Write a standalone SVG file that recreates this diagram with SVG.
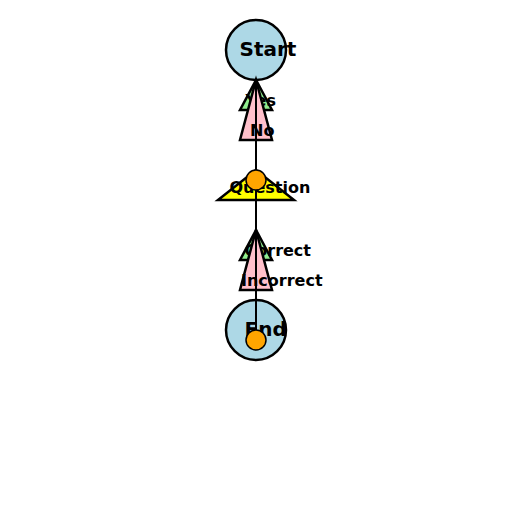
<svg xmlns="http://www.w3.org/2000/svg" width="512" height="512" viewBox="0 0 512 512">
  <style>
    .lbl { font-family: "DejaVu Sans", "Liberation Sans", sans-serif; font-weight: bold; fill: #000; }
    .big { font-size: 20px; }
    .small { font-size: 16px; }
    .edge { fill: none; stroke: #000; stroke-width: 2.5; }
    .nofill { stroke: none; }
    .conn { stroke: #000; stroke-width: 2; fill: none; }
    .dot { fill: #FFA500; stroke: #000; stroke-width: 1.5; }
  </style>
  <rect width="512" height="512" fill="#ffffff"/>
  <g id="start">
    <circle cx="256" cy="50" r="30" fill="#ADD8E6" class="nofill"/>
    <text class="lbl big" x="239.5" y="55.5">Start</text>
    <circle cx="256" cy="50" r="30" class="edge"/>
  </g>
  <g id="yes">
    <polygon points="256,80 240,110 272,110" fill="#90EE90" class="nofill"/>
    <polygon points="256,80 240,110 272,110" class="edge"/>
    <text class="lbl small" x="245.5" y="105.5">Yes</text>
  </g>
  <g id="no">
    <polygon points="256,80 240,140 272,140" fill="#FFC0CB" class="nofill"/>
    <text class="lbl small" x="250" y="136">No</text>
    <polygon points="256,80 240,140 272,140" class="edge"/>
  </g>
  <g id="question">
    <polygon points="256,170 218,200 294,200" fill="#FFFF00" class="nofill"/>
    <text class="lbl small" x="229.5" y="193">Question</text>
    <polygon points="256,170 218,200 294,200" class="edge"/>
  </g>
  <g id="correct">
    <polygon points="256,230 240,260 272,260" fill="#90EE90" class="nofill"/>
    <polygon points="256,230 240,260 272,260" class="edge"/>
    <text class="lbl small" x="244.5" y="256">Correct</text>
  </g>
  <g id="incorrect">
    <polygon points="256,230 240,290 272,290" fill="#FFC0CB" class="nofill"/>
    <text class="lbl small" x="241" y="286">Incorrect</text>
    <polygon points="256,230 240,290 272,290" class="edge"/>
  </g>
  <g id="end">
    <circle cx="256" cy="330" r="30" fill="#ADD8E6" class="nofill"/>
    <text class="lbl big" x="244.5" y="335.5">End</text>
    <circle cx="256" cy="330" r="30" class="edge"/>
  </g>
  <g id="connectors">
    <line x1="256" y1="80" x2="256" y2="340" class="conn"/>
    <circle cx="256" cy="180" r="10" class="dot"/>
    <circle cx="256" cy="340" r="10" class="dot"/>
  </g>
</svg>
